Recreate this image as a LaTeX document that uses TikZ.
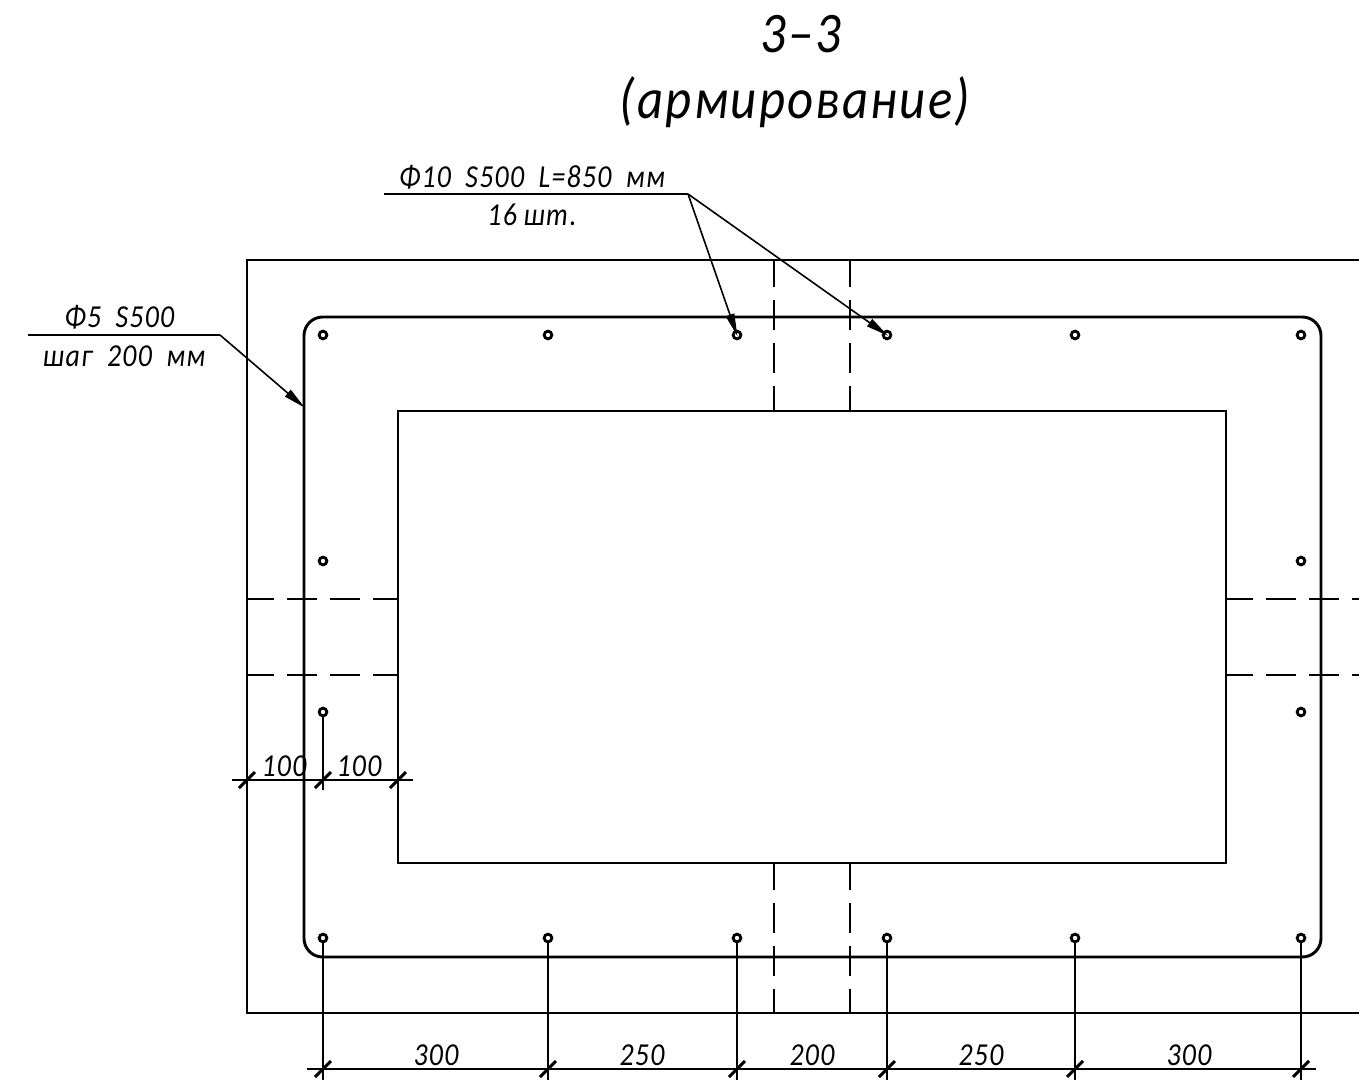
\documentclass[tikz,border=0pt]{standalone}
\usepackage{fontspec}
\setmainfont{Carlito}
\newfontfamily\gost[LetterSpace=4,FakeStretch=0.87,WordSpace=1.9]{Carlito Italic}
\newfontfamily\gosttitle[LetterSpace=4,FakeStretch=0.886]{Carlito Italic}
\usetikzlibrary{arrows.meta}
\tikzset{
  x=0.75pt,y=-0.75pt,
  outline/.style={line width=0.95pt,black},
  hidden/.style={line width=0.95pt,black,dash pattern=on 22.5pt off 9.75pt,dash phase=2.6pt},
  bar/.style={line width=2.2pt,black,rounded corners=14pt},
  thin line/.style={line width=0.95pt,black},
  ext/.style={line width=1.3pt,black},
  rebar/.style={circle,draw=black,line width=2.1pt,fill=white,minimum size=5.8pt,inner sep=0pt,outer sep=0pt},
  tick/.style={line width=2.2pt,black},
  dimtext/.style={font=\gost\fontsize{24}{24}\selectfont,anchor=base,inner sep=0pt},
  leadtext/.style={font=\gost\fontsize{24}{24}\selectfont,anchor=base,inner sep=0pt},
  titletext/.style={font=\gosttitle\fontsize{43}{43}\selectfont,anchor=base,inner sep=0pt},
  leader/.style={line width=1.2pt,black,-{Triangle[length=17pt,width=6.5pt]},shorten >=-1pt},
}
\newcommand{\dimtick}[1]{\draw[tick] ([shift={(-8,8)}]#1) -- ([shift={(8,-8)}]#1);}
\begin{document}
\begin{tikzpicture}
\useasboundingbox (0,0) rectangle (1359,1081);
\clip (0,0) rectangle (1359,1081);
% concrete outline
\draw[outline] (1359,260) -- (247,260) -- (247,1013) -- (1359,1013);
\draw[outline] (398,411) rectangle (1226,863);
% hidden lines
\draw[hidden] (774,260) -- (774,411);
\draw[hidden] (850,260) -- (850,411);
\draw[hidden] (774,863) -- (774,1013);
\draw[hidden] (850,863) -- (850,1013);
\draw[hidden] (247,599) -- (398,599);
\draw[hidden] (247,675) -- (398,675);
\draw[hidden] (1226,599) -- (1359,599);
\draw[hidden] (1226,675) -- (1359,675);
% stirrup
\draw[bar] (304,317) rectangle (1321,957);
% rebars
\foreach \n/\x in {a/323,b/548,c/737,d/887,e/1075,f/1301}{
  \node[rebar] (t\n) at (\x,335) {};
  \node[rebar] (b\n) at (\x,938) {};
  \coordinate (dim\n) at (\x,1069);
  \coordinate (end\n) at (\x,1080);
  \draw[ext] (b\n) -- (end\n);
  \dimtick{dim\n}
}
\node[rebar] (l1) at (323,561) {};
\node[rebar] (l2) at (323,712) {};
\node[rebar] (r1) at (1301,561) {};
\node[rebar] (r2) at (1301,712) {};
% bottom dimension line
\coordinate (dimL) at (307,1069);
\coordinate (dimR) at (1316,1069);
\draw[thin line] (dimL) -- (dimR);
\node[dimtext] (d1) at (436,1065) {300};
\node[dimtext] (d2) at (642,1065) {250};
\node[dimtext] (d3) at (812,1065) {200};
\node[dimtext] (d4) at (981,1065) {250};
\node[dimtext] (d5) at (1189,1065) {300};
% left dimension
\coordinate (lx1) at (247,780);
\coordinate (lx2) at (323,780);
\coordinate (lx3) at (398,780);
\coordinate (ll) at (232,780);
\coordinate (lr) at (413,780);
\coordinate (l2end) at (323,790);
\draw[thin line] (ll) -- (lr);
\draw[ext] (l2) -- (l2end);
\dimtick{lx1}
\dimtick{lx2}
\dimtick{lx3}
\node[dimtext] (d6) at (284,776) {100};
\node[dimtext] (d7) at (359,776) {100};
% leaders
\coordinate (k1a) at (384,194);
\coordinate (k1) at (688,194);
\draw[thin line] (k1a) -- (k1);
\draw[leader] (k1) -- (tc.center);
\draw[leader] (k1) -- (td.center);
\node[leadtext] (n1) at (532,187) {Φ10 S500 L=850 мм};
\node[leadtext] (n2) at (532,225) {16\hspace{-6pt} шт.};
\coordinate (k2a) at (28,335);
\coordinate (k2) at (220,335);
\coordinate (k2e) at (304,407);
\draw[thin line] (k2a) -- (k2);
\draw[leader] (k2) -- (k2e);
\node[leadtext] (n3) at (119.5,327) {Φ5 S500};
\node[leadtext] (n4) at (124,366) {шаг 200 мм};
% title
\node[titletext] (t1) at (801,53) {3–3};
\node[titletext] (t2) at (795,118) {(армирование)};
\end{tikzpicture}
\end{document}
